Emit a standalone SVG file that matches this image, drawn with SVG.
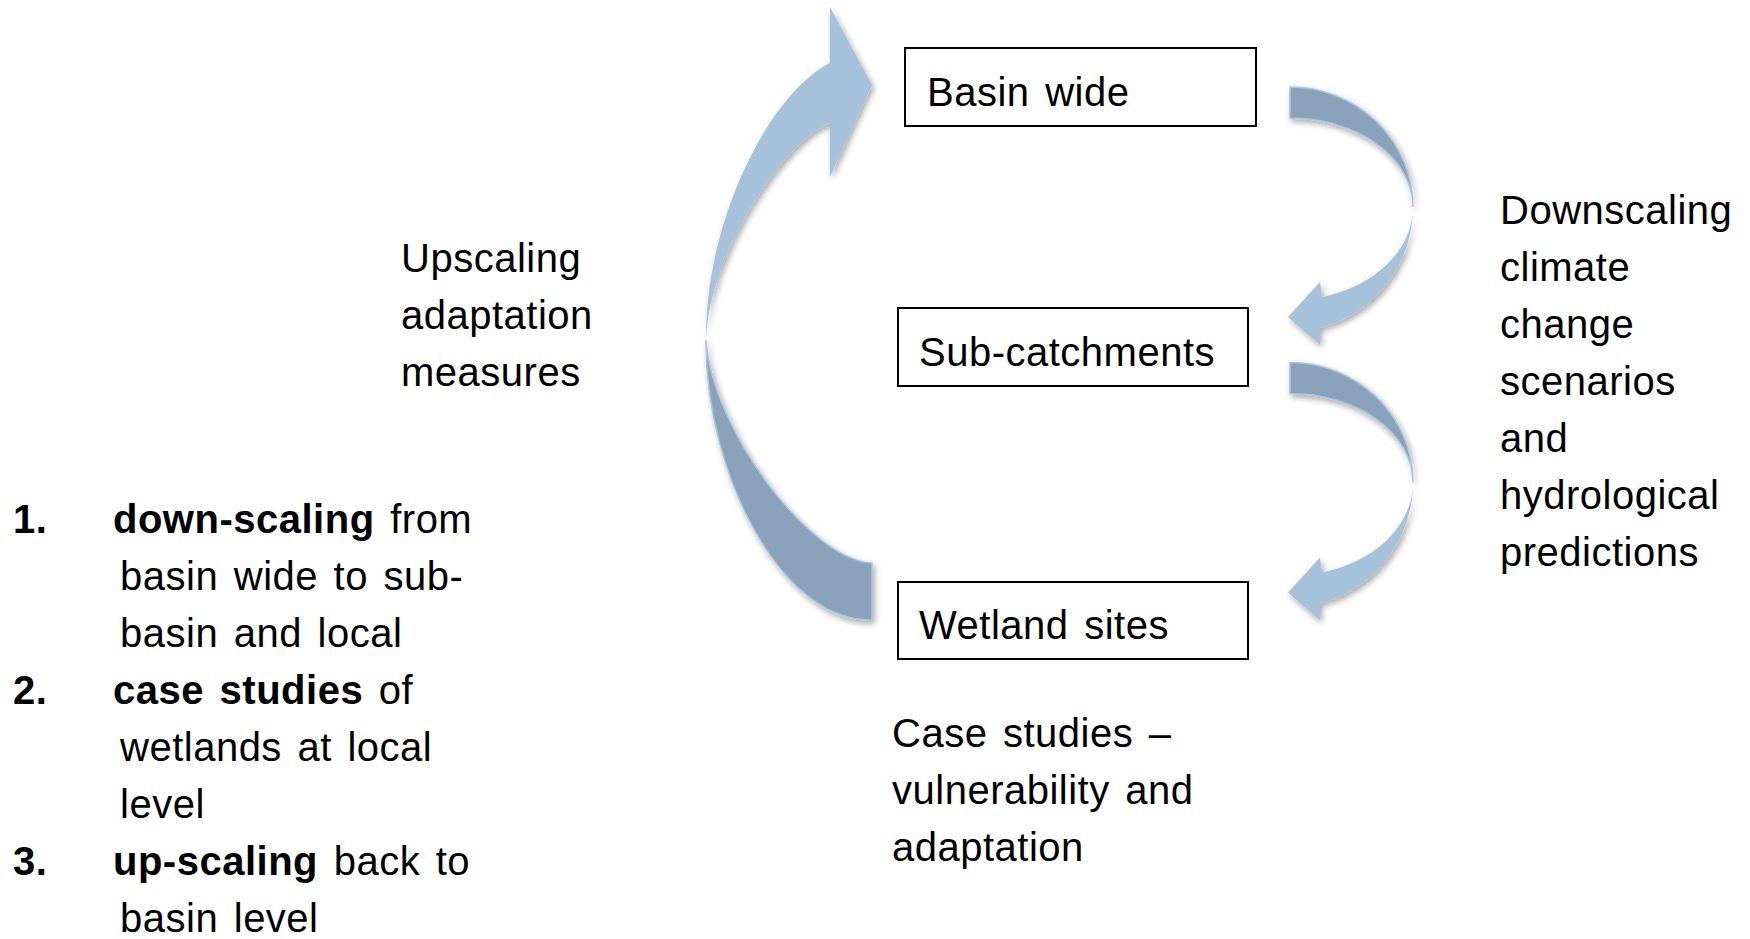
<svg xmlns="http://www.w3.org/2000/svg" width="1750" height="939" viewBox="0 0 1750 939">
<style>
  text { font-family: "Liberation Sans", Arial, sans-serif; fill: #000; letter-spacing: 0.5px; word-spacing: 4px; }
  .box { fill: #fff; stroke: #000; stroke-width: 2; }
  .lbl { font-size: 40px; }
  .txt { font-size: 40px; }
  .b { font-weight: bold; }
  .front { fill: #A5C2DA; }
  .back { fill: #8AA2B9; stroke: #A9C6DF; stroke-width: 1.5; }
</style>
<defs>
  <filter id="sh" x="-20%" y="-20%" width="140%" height="140%">
    <feDropShadow dx="2" dy="3" stdDeviation="3" flood-color="#000" flood-opacity="0.35"/>
  </filter>
</defs>
<rect width="1750" height="939" fill="#fff"/>

<g id="connectors" filter="url(#sh)">
  <g id="arrow-upscaling">
    <path class="back" d="M 706 340 C 705 470, 780 622, 872 620 L 872 563 C 810 560, 712 430, 706 340 Z"/>
    <path class="front" d="M 706 340 C 705 220, 770 93, 830 63 L 830 7 L 872 85 L 830 177 L 830 123 C 785 140, 708 255, 706 340 Z"/>
  </g>
  <g id="arrow-down-1">
    <path class="back" d="M 1290 87 A 123 120 0 0 1 1413 207 A 123 89 0 0 0 1290 118 Z"/>
    <path class="front" d="M 1413 207 A 123 125 0 0 1 1320 328 L 1320 345 L 1288 317 L 1320 282 L 1322 297 A 123 93 0 0 0 1413 207 Z"/>
  </g>
  <g id="arrow-down-2" transform="translate(0,275.5)">
    <path class="back" d="M 1290 87 A 123 120 0 0 1 1413 207 A 123 89 0 0 0 1290 118 Z"/>
    <path class="front" d="M 1413 207 A 123 125 0 0 1 1320 328 L 1320 345 L 1288 317 L 1320 282 L 1322 297 A 123 93 0 0 0 1413 207 Z"/>
  </g>
</g>

<g id="node-basin-wide">
  <rect class="box" x="905" y="48" width="351" height="78"/>
  <text class="lbl" x="927" y="106">Basin wide</text>
</g>
<g id="node-sub-catchments">
  <rect class="box" x="898" y="308" width="350" height="78"/>
  <text class="lbl" x="919" y="366">Sub-catchments</text>
</g>
<g id="node-wetland-sites">
  <rect class="box" x="898" y="582" width="350" height="77"/>
  <text class="lbl" x="919" y="639">Wetland sites</text>
</g>

<g id="label-upscaling" class="txt">
  <text x="401" y="272">Upscaling</text>
  <text x="401" y="329">adaptation</text>
  <text x="401" y="386">measures</text>
</g>

<g id="label-downscaling" class="txt">
  <text x="1500" y="224">Downscaling</text>
  <text x="1500" y="281">climate</text>
  <text x="1500" y="338">change</text>
  <text x="1500" y="395">scenarios</text>
  <text x="1500" y="452">and</text>
  <text x="1500" y="509">hydrological</text>
  <text x="1500" y="566">predictions</text>
</g>

<g id="label-case-studies" class="txt">
  <text x="892" y="747">Case studies –</text>
  <text x="892" y="804">vulnerability and</text>
  <text x="892" y="861">adaptation</text>
</g>

<g id="list" class="txt">
  <text class="b" x="13" y="533">1.</text>
  <text x="113" y="533"><tspan class="b">down-scaling</tspan> from</text>
  <text x="120" y="590">basin wide to sub-</text>
  <text x="120" y="647">basin and local</text>
  <text class="b" x="13" y="704">2.</text>
  <text x="113" y="704"><tspan class="b">case studies</tspan> of</text>
  <text x="120" y="761">wetlands at local</text>
  <text x="120" y="818">level</text>
  <text class="b" x="13" y="875">3.</text>
  <text x="113" y="875"><tspan class="b">up-scaling</tspan> back to</text>
  <text x="120" y="932">basin level</text>
</g>
</svg>
